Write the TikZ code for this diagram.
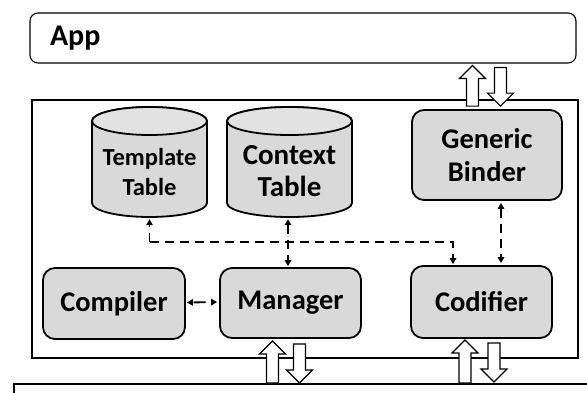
\documentclass[tikz,border=0pt]{standalone}
\usepackage{fontspec}
\setmainfont{Carlito}
\usetikzlibrary{arrows.meta,calc}

\definecolor{boxgray}{HTML}{D9D9D9}
\definecolor{capgray}{HTML}{E2E2E2}

\tikzset{
  unitbox/.style={draw, line width=1.8pt, fill=boxgray, rounded corners=12pt,
    inner sep=0pt, align=center, font=\bfseries\fontsize{28.5pt}{33pt}\selectfont},
  appbox/.style={draw, line width=1.1pt, rounded corners=8pt, inner xsep=20pt,
    inner ysep=0pt, align=left, font=\bfseries\fontsize{30pt}{35pt}\selectfont},
  frame/.style={draw, line width=1.6pt, inner sep=0pt},
  cylspot/.style={inner sep=0pt},
  cylbody/.style={draw, line width=1.8pt, fill=boxgray},
  cylcap/.style={draw, line width=1.8pt, fill=capgray},
  cyllabel/.style={inner sep=0pt, align=center},
  blockarrow/.style={draw, line width=1.2pt, fill=white, line join=miter},
  dlink/.style={line width=1.9pt, dash pattern=on 9pt off 6pt},
  tip/.tip={Triangle[length=6pt, width=6.5pt]}
}

% filled database cylinder: centre x, top y, x radius, total height
\newcommand\drawcyl[4]{%
  \path[cylbody] (#1-#3,#2+14) -- (#1-#3,#2+#4-14)
    arc[start angle=180, end angle=360, x radius=#3pt, y radius=14pt]
    -- (#1+#3,#2+14)
    arc[start angle=0, end angle=180, x radius=#3pt, y radius=14pt] -- cycle;
  \path[cylcap] (#1,#2+14) ellipse[x radius=#3pt, y radius=14pt];
}

% outlined vertical block arrow from tail #1 towards the height of #2
\newcommand\blockarrow[2]{%
  \path[blockarrow] let \p1=#1, \p2=#2, \n1={ifthenelse(\y2>\y1,1,-1)} in
    (\x1-6pt,\y1) -- (\x1-6pt,\y2-\n1*13pt) -- (\x1-13pt,\y2-\n1*13pt)
    -- (\x1,\y2) -- (\x1+13pt,\y2-\n1*13pt) -- (\x1+6pt,\y2-\n1*13pt)
    -- (\x1+6pt,\y1) -- cycle;
}

\begin{document}
\begin{tikzpicture}[x=1pt, y=-1pt]
\useasboundingbox (0,0) rectangle (587,392);

% application layer
\node[appbox, minimum width=546pt, minimum height=50pt, text width=506pt]
  (app) at (303,38) {App};

% engine frame
\node[frame, minimum width=546pt, minimum height=258pt] (core) at (305,229) {};

% platform layer, running off the page
\begin{scope}
  \clip (0,0) rectangle (587,392);
  \node[frame, anchor=north west, minimum width=620pt, minimum height=40pt]
    (base) at (13,383) {};
\end{scope}

% tables
\drawcyl{149.5}{107}{57.5}{110}
\node[cylspot, minimum width=115pt, minimum height=110pt] (tmpl) at (149.5,162) {};
\node[cyllabel, font=\bfseries\fontsize{24.5pt}{30pt}\selectfont]
  (tmpllbl) at (149.5,172) {Template\\Table};

\drawcyl{289.5}{107}{62.5}{110}
\node[cylspot, minimum width=125pt, minimum height=110pt] (ctx) at (289.5,162) {};
\node[cyllabel, font=\bfseries\fontsize{29pt}{32pt}\selectfont]
  (ctxlbl) at (289.5,171) {Context\\Table};

% components
\node[unitbox, minimum width=150pt, minimum height=90pt] (gb) at (487,155) {Generic\\Binder};
\node[unitbox, minimum width=142pt, minimum height=71pt] (comp) at (114,303.5) {Compiler};
\node[unitbox, minimum width=141pt, minimum height=70pt] (mgr) at (290.5,303) {Manager};
\node[unitbox, minimum width=141pt, minimum height=72pt] (cod) at (481.5,302) {Codifier};

% internal links
\coordinate (bus) at (0,242);
\draw[dlink, -tip] (tmpl.south |- bus) -- ($(tmpl.south)+(0,2)$);
\draw[dlink, -tip] (tmpl.south |- bus) -- ($(bus -| cod.north)+(-28.5,0)$)
  -- ($(cod.north)+(-28.5,-1)$);
\draw[dlink, tip-tip] ($(ctx.south)+(-1.5,2)$) -- ($(ctx.south |- mgr.north)+(-1.5,-1)$);
\draw[dlink, tip-tip] ($(gb.south)+(14,2)$) -- ($(gb.south |- cod.north)+(14,-2)$);
\draw[dlink, dash pattern=on 12pt off 6pt, dash phase=-1pt, tip-tip]
  ($(comp.east)+(1,-1)$) -- ($(mgr.west)+(-2,-1)$);

% external interfaces
\blockarrow{($(gb.north)+(-14.5,-3)$)}{($(app.south)+(0,2)$)}
\blockarrow{($(app.south -| gb.north)+(13.5,4)$)}{($(gb.north)+(0,-3)$)}
\blockarrow{($(mgr.south |- base.north)+(-18,0)$)}{($(mgr.south)+(0,2)$)}
\blockarrow{($(mgr.south)+(9,5)$)}{(mgr.south |- base.north)}
\blockarrow{($(cod.south |- base.north)+(-16.5,0)$)}{($(cod.south)+(0,1)$)}
\blockarrow{($(cod.south)+(12.5,4)$)}{($(cod.south |- base.north)+(0,-1)$)}
\end{tikzpicture}
\end{document}
